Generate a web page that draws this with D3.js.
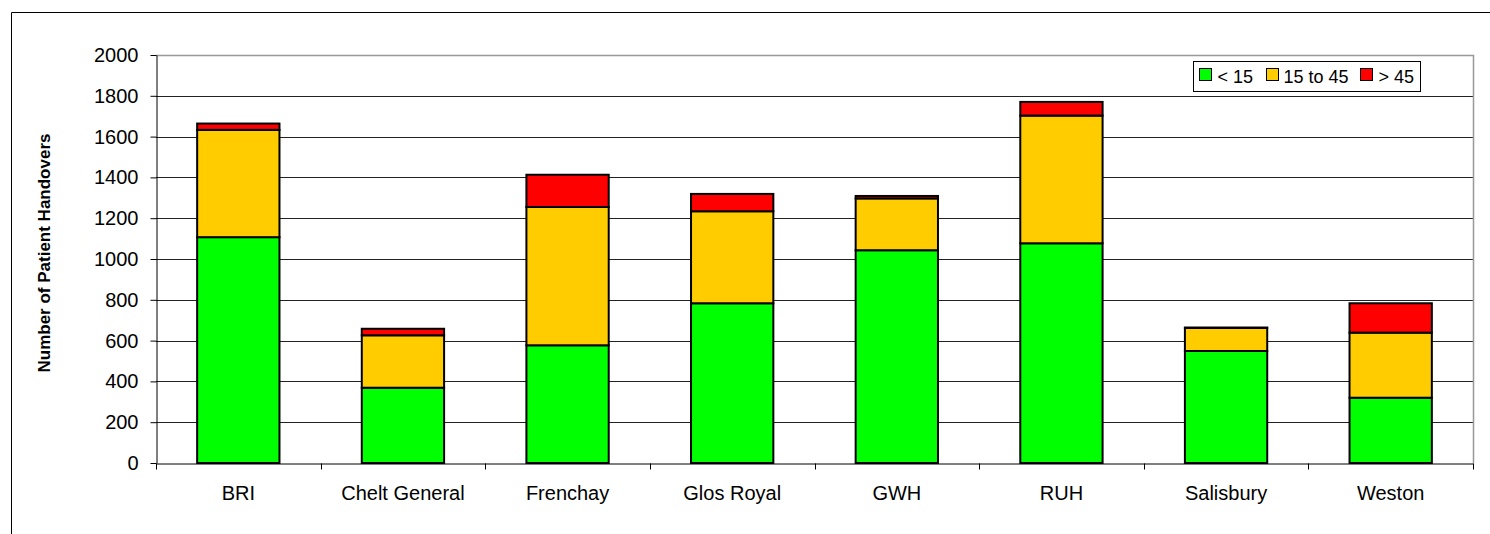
<!DOCTYPE html>
<html>
<head>
<meta charset="utf-8">
<script src="https://cdn.jsdelivr.net/npm/d3@7"></script>
<style>
  body { margin: 0; background: #fff; }
  svg { display: block; font-family: "Liberation Sans", Arial, sans-serif; }
</style>
</head>
<body>
<svg id="chart" width="1490" height="534"></svg>
<script>
// Data
const hospitals = ["BRI", "Chelt General", "Frenchay", "Glos Royal", "GWH", "RUH", "Salisbury", "Weston"];
const under15 = [1107, 369, 577, 783, 1043, 1077, 549, 320];
const from15to45 = [526, 257, 678, 451, 254, 626, 113, 319];
const over45 = [31, 32, 158, 85, 12, 67, 2, 144];
const seriesNames = ["< 15", "15 to 45", "> 45"];
const seriesColors = ["#00ff00", "#ffcc00", "#ff0000"];
const yTicks = [0, 200, 400, 600, 800, 1000, 1200, 1400, 1600, 1800, 2000];

const svg = d3.select("#chart");
const margin = { left: 156, top: 55, right: 1473, bottom: 463 };
const font = "Liberation Sans, Arial, sans-serif";

// outer chart border (top + left)
svg.append("path")
  .attr("d", "M11.5,534 V12.5 H1490")
  .attr("fill", "none")
  .attr("stroke", "#000")
  .attr("stroke-width", 1);

const x = d3.scaleBand()
  .domain(hospitals)
  .range([margin.left, margin.right])
  .paddingInner(0.5)
  .paddingOuter(0.25);

const y = d3.scaleLinear().domain([0, 2000]).range([margin.bottom, margin.top]);

// gridlines
svg.append("g")
  .selectAll("line")
  .data(yTicks.filter((d) => d > 0 && d < 2000))
  .join("line")
  .attr("x1", margin.left)
  .attr("x2", margin.right)
  .attr("y1", (d) => Math.round(y(d)) + 0.5)
  .attr("y2", (d) => Math.round(y(d)) + 0.5)
  .attr("stroke", "#222")
  .attr("stroke-width", 1);

// plot area border (top + right, grey)
svg.append("path")
  .attr("d", `M${margin.left},${margin.top + 0.5} H${margin.right + 0.5} V${margin.bottom}`)
  .attr("fill", "none")
  .attr("stroke", "#999")
  .attr("stroke-width", 1.5);

// stacked bars
const rows = hospitals.map((h, i) => ({
  name: h,
  "< 15": under15[i],
  "15 to 45": from15to45[i],
  "> 45": over45[i],
}));
const stack = d3.stack().keys(seriesNames)(rows);

svg.append("g")
  .selectAll("g")
  .data(stack)
  .join("g")
  .attr("fill", (d, i) => seriesColors[i])
  .selectAll("rect")
  .data((d) => d)
  .join("rect")
  .attr("x", (d) => x(d.data.name))
  .attr("width", x.bandwidth())
  .attr("y", (d) => y(d[1]))
  .attr("height", (d) => y(d[0]) - y(d[1]))
  .attr("stroke", "#000")
  .attr("stroke-width", 2);

// y axis
const yAxis = svg.append("g")
  .attr("transform", `translate(${margin.left + 0.5},0)`)
  .call(d3.axisLeft(y).tickValues(yTicks).tickFormat(d3.format("d"))
    .tickSize(6).tickPadding(12).tickSizeOuter(0));
yAxis.select(".domain").attr("stroke", "#000");
yAxis.selectAll("text").attr("font-size", 20).attr("fill", "#000").attr("font-family", font);

// x axis
const xAxis = svg.append("g")
  .attr("transform", `translate(0,${margin.bottom + 0.5})`)
  .call(d3.axisBottom(x).tickSize(0).tickPadding(22).tickSizeOuter(0));
xAxis.select(".domain").attr("stroke", "#000");
xAxis.selectAll("text").attr("font-size", 20).attr("fill", "#000").attr("font-family", font);
// tick marks at category boundaries
const step = x.step();
xAxis.append("g")
  .selectAll("line")
  .data(d3.range(hospitals.length + 1))
  .join("line")
  .attr("x1", (i) => Math.round(margin.left + i * step) + 0.5)
  .attr("x2", (i) => Math.round(margin.left + i * step) + 0.5)
  .attr("y1", 0)
  .attr("y2", 6)
  .attr("stroke", "#000");

// y axis title
svg.append("text")
  .attr("transform", "translate(50,253) rotate(-90)")
  .attr("text-anchor", "middle")
  .attr("font-size", 17)
  .attr("font-weight", "bold")
  .text("Number of Patient Handovers");

// legend
const legend = svg.append("g").attr("transform", "translate(1193.5,61.5)");
legend.append("rect")
  .attr("width", 227)
  .attr("height", 30)
  .attr("fill", "#fff")
  .attr("stroke", "#000")
  .attr("stroke-width", 1);
const swatchX = [6, 73, 167];
const labelX = [24, 90, 185];
seriesNames.forEach((name, i) => {
  legend.append("rect")
    .attr("x", swatchX[i])
    .attr("y", 7)
    .attr("width", 12)
    .attr("height", 12)
    .attr("fill", seriesColors[i])
    .attr("stroke", "#000");
  legend.append("text")
    .attr("x", labelX[i])
    .attr("y", 21)
    .attr("font-size", 18)
    .text(name);
});
</script>
</body>
</html>
